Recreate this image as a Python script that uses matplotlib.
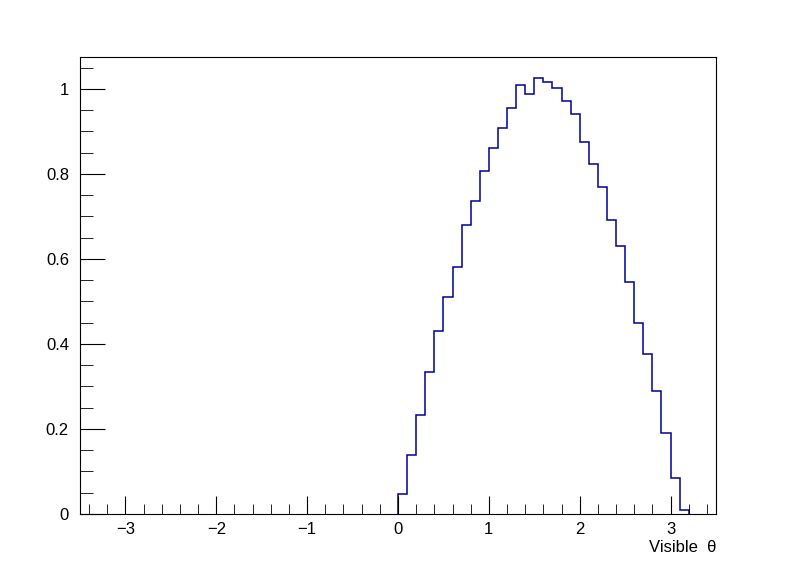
import numpy as np
import matplotlib
matplotlib.use('Agg')
import matplotlib.pyplot as plt
from matplotlib.ticker import MultipleLocator

plt.rcParams['font.family'] = ['Liberation Sans', 'DejaVu Sans']

# 70 bins of width 0.1 from -3.5 to 3.5
bin_edges = np.round(np.arange(-3.5, 3.5001, 0.1), 2)
# non-zero contents for bins from 0.0 to 3.2
positive_part = [0.047, 0.139, 0.233, 0.334, 0.430, 0.510, 0.580, 0.680,
                 0.736, 0.807, 0.861, 0.908, 0.955, 1.009, 0.988, 1.026,
                 1.016, 1.002, 0.972, 0.941, 0.875, 0.824, 0.769, 0.692,
                 0.631, 0.546, 0.449, 0.376, 0.289, 0.190, 0.085, 0.009]
counts = np.zeros(len(bin_edges) - 1)
counts[35:35 + len(positive_part)] = positive_part

fig = plt.figure(figsize=(7.96, 5.72), dpi=100)
ax = fig.add_axes([80/796, 1 - 514/572, (716-80)/796, (514-57)/572])
# draw only the filled range so the empty bins don't paint over the axis
nz = np.nonzero(counts)[0]
lo, hi = nz[0], nz[-1] + 1
ax.stairs(counts[lo:hi], bin_edges[lo:hi + 1], color='#000099', linewidth=1.1)

ax.set_xlim(-3.5, 3.5)
ax.set_ylim(0, 1.075)
ax.xaxis.set_major_locator(MultipleLocator(1))
ax.xaxis.set_minor_locator(MultipleLocator(0.2))
ax.yaxis.set_major_locator(MultipleLocator(0.2))
ax.yaxis.set_minor_locator(MultipleLocator(0.05))
ax.yaxis.set_major_formatter(matplotlib.ticker.FuncFormatter(lambda v, p: '{0:g}'.format(round(v, 2))))
ax.xaxis.set_major_formatter(matplotlib.ticker.FuncFormatter(lambda v, p: '{0:g}'.format(v).replace('-', '\u2212')))
ax.tick_params(axis='x', which='major', direction='in', length=13, labelsize=12, pad=6)
ax.tick_params(axis='x', which='minor', direction='in', length=7)
ax.tick_params(axis='y', which='major', direction='in', length=18, labelsize=12, pad=8)
ax.tick_params(axis='y', which='minor', direction='in', length=9)
for s in ax.spines.values():
    s.set_zorder(3)

fig.text(716/796, 1 - 548/572, 'Visible  \u03b8', ha='right', va='center', fontsize=12)
fig.savefig('out.png', dpi=100)
